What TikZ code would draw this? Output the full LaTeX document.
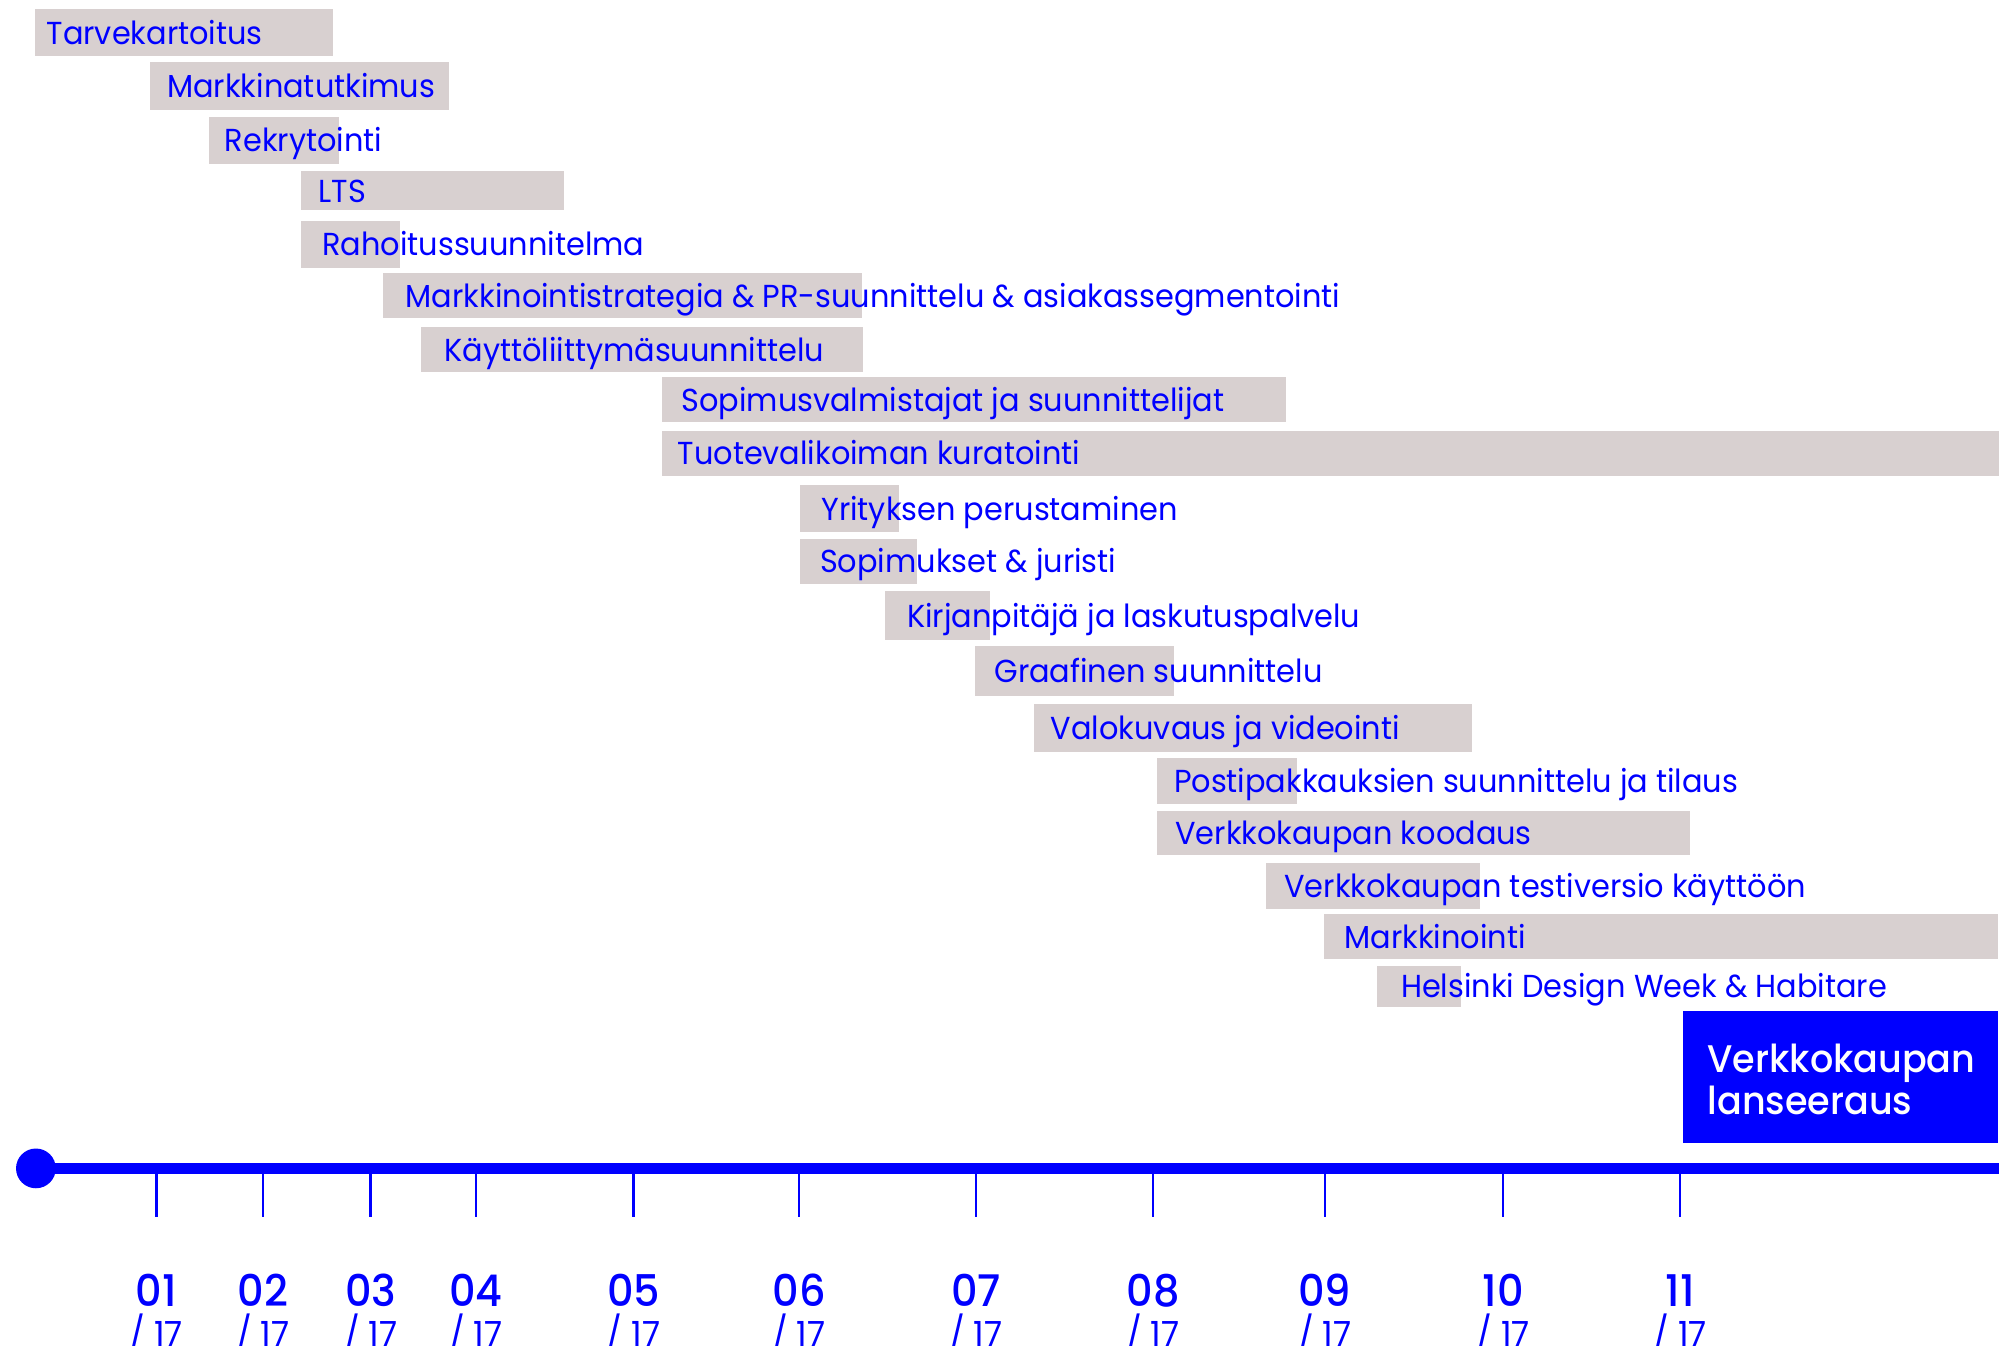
\documentclass[tikz,border=0pt]{standalone}
\usepackage{fontspec}
\setmainfont{Poppins}[FakeStretch=0.955]
\newfontfamily\numfont{Poppins}[UprightFont=* Medium, FakeStretch=0.95]
\definecolor{tblue}{HTML}{0000FF}
\definecolor{tgrey}{HTML}{D8D0D0}
\tikzset{
  taskbox/.style={fill=tgrey, draw=none},
  tasklabel/.style={anchor=base west, inner sep=0pt, text=tblue, font=\fontsize{12.4}{14}\selectfont},
  launchlabel/.style={anchor=base west, inner sep=0pt, text=white, align=left, font=\numfont\fontsize{15}{16.5}\selectfont},
  axisline/.style={draw=tblue, line width=4.5pt},
  tickline/.style={draw=tblue, line width=1pt},
  monthnum/.style={anchor=base, inner sep=0pt, text=tblue, font=\numfont\fontsize{17}{18}\selectfont},
  monthyr/.style={anchor=base, inner sep=0pt, text=tblue, font=\fontsize{13.5}{15}\selectfont},
}
\newcommand\tsk[7]{%
  \path[taskbox] (#2,#4) rectangle (#3,#5);
  \node[tasklabel] (#1) at (#6,{(#4+#5)/2+9}) {#7};
}
\newcommand\mon[3]{%
  \coordinate (tk#1top) at (#2,915);
  \coordinate (tk#1bot) at (#2,949);
  \draw[tickline] (tk#1top) -- (tk#1bot);
  \node[monthnum] (m#1) at (#2,1019) {#3};
  \node[monthyr] (y#1) at (#2,1050) {/ 17};
}
\begin{document}
\begin{tikzpicture}[x=0.5pt,y=-0.5pt]
\useasboundingbox (0,0) rectangle (1568,1049);
\tsk{t1}{27}{260}{7}{44}{36}{Tarvekartoitus}
\tsk{t2}{117}{350}{48}{86}{130}{Markkinatutkimus}
\tsk{t3}{163}{264}{91}{128}{175}{Rekrytointi}
\tsk{t4}{235}{440}{133}{164}{248}{LTS}
\tsk{t5}{235}{312}{172}{209}{251}{Rahoitussuunnitelma}
\tsk{t6}{299}{672}{213}{248}{316}{Markkinointistrategia \& PR-suunnittelu \& asiakassegmentointi}
\tsk{t7}{328}{673}{255}{290}{346}{Käyttöliittymäsuunnittelu}
\tsk{t8}{516}{1003}{294}{329}{531}{Sopimusvalmistajat ja suunnittelijat}
\tsk{t9}{516}{1559}{336}{371}{528}{Tuotevalikoiman kuratointi}
\tsk{t10}{624}{701}{378}{415}{640}{Yrityksen perustaminen}
\tsk{t11}{624}{715}{420}{455}{639}{Sopimukset \& juristi}
\tsk{t12}{690}{772}{461}{499}{707}{Kirjanpitäjä ja laskutuspalvelu}
\tsk{t13}{760}{915}{504}{543}{775}{Graafinen suunnittelu}
\tsk{t14}{806}{1148}{549}{586}{819}{Valokuvaus ja videointi}
\tsk{t15}{902}{1011}{591}{627}{915}{Postipakkauksien suunnittelu ja tilaus}
\tsk{t16}{902}{1318}{632}{667}{916}{Verkkokaupan koodaus}
\tsk{t17}{987}{1154}{673}{709}{1001}{Verkkokaupan testiversio käyttöön}
\tsk{t18}{1032}{1558}{713}{748}{1048}{Markkinointi}
\tsk{t19}{1074}{1139}{753}{785}{1092}{Helsinki Design Week \& Habitare}
% launch box
\path[fill=tblue] (1312,788) rectangle (1558,891);
\node[launchlabel] (launch) at (1331,869) {Verkkokaupan\\lanseeraus};
% axis
\node[circle, fill=tblue, inner sep=0pt, minimum size=15.5pt] (start) at (28,911) {};
\coordinate (axend) at (1559,911);
\draw[axisline] (start.center) -- (axend);
\mon{1}{122}{01}
\mon{2}{205}{02}
\mon{3}{289}{03}
\mon{4}{371}{04}
\mon{5}{494}{05}
\mon{6}{623}{06}
\mon{7}{761}{07}
\mon{8}{899}{08}
\mon{9}{1033}{09}
\mon{10}{1172}{10}
\mon{11}{1310}{11}
\end{tikzpicture}
\end{document}
